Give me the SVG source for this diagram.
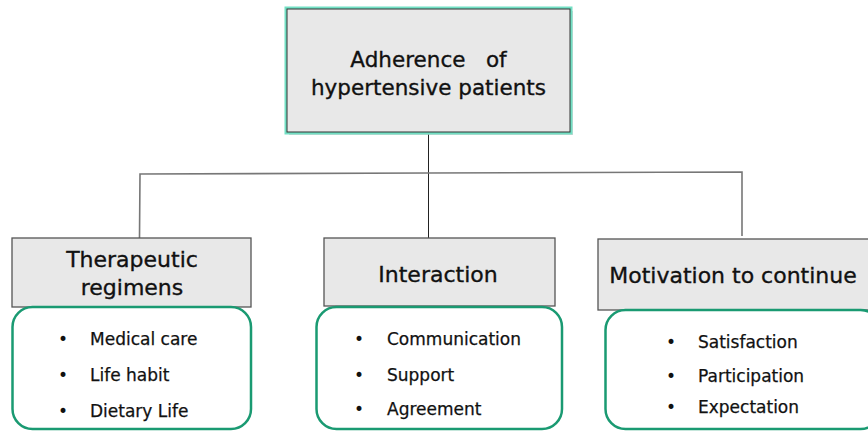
<svg xmlns="http://www.w3.org/2000/svg" width="868" height="431" viewBox="0 0 868 431">
<style>
.hd{font-family:"DejaVu Sans","Liberation Sans",sans-serif;font-size:22px;fill:#111;stroke:#111;stroke-width:0.35;text-anchor:middle}
.it{font-family:"DejaVu Sans","Liberation Sans",sans-serif;font-size:17px;fill:#111;stroke:#111;stroke-width:0.25}
.bl{font-family:"DejaVu Sans","Liberation Sans",sans-serif;font-size:17px;fill:#111;text-anchor:middle}
.gbox{fill:#e8e8e8;stroke:#555;stroke-width:1.3}
.rbox{fill:#fff;stroke:#1a9a72;stroke-width:2.5}
.ln{fill:none;stroke:#777;stroke-width:1.6}
</style>
<rect width="868" height="431" fill="#fff"/>
<g id="connectors">
<line x1="428.5" y1="132" x2="428.5" y2="238" stroke="#222" stroke-width="1"/>
<polyline class="ln" points="139.5,238 140,174 428,173 742,172 742,236"/>
</g>
<g id="root">
<rect x="289" y="11" width="284" height="124" fill="#bbb" opacity="0.6"/>
<rect x="287" y="9" width="283" height="123" fill="none" stroke="#72e0c4" stroke-width="5"/>
<rect x="287" y="9" width="283" height="123" fill="#e8e8e8" stroke="#333" stroke-width="1"/>
<text class="hd" x="428.5" y="67" style="font-size:21.5px;white-space:pre" xml:space="preserve">Adherence   of</text>
<text class="hd" x="428.5" y="95" style="font-size:21.5px">hypertensive patients</text>
</g>
<g id="therapeutic">
<rect class="gbox" x="12" y="238" width="239" height="69"/>
<text class="hd" x="132" y="267">Therapeutic</text>
<text class="hd" x="132" y="295">regimens</text>
</g>
<g id="therapeutic-items">
<rect class="rbox" x="12.5" y="307" width="238.5" height="122" rx="20"/>
<text class="bl" x="63" y="345">•</text><text class="it" x="90" y="345">Medical care</text>
<text class="bl" x="63" y="381">•</text><text class="it" x="90" y="381">Life habit</text>
<text class="bl" x="63" y="417">•</text><text class="it" x="90" y="417">Dietary Life</text>
</g>
<g id="interaction">
<rect class="gbox" x="324" y="238" width="231" height="68"/>
<text class="hd" x="438" y="282">Interaction</text>
</g>
<g id="interaction-items">
<rect class="rbox" x="316.5" y="307" width="245.5" height="122" rx="20"/>
<text class="bl" x="359" y="345">•</text><text class="it" x="387" y="345">Communication</text>
<text class="bl" x="359" y="381">•</text><text class="it" x="387" y="381">Support</text>
<text class="bl" x="359" y="415">•</text><text class="it" x="387" y="415">Agreement</text>
</g>
<g id="motivation">
<rect class="gbox" x="598" y="239" width="285" height="71"/>
<text class="hd" x="733" y="283">Motivation to continue</text>
</g>
<g id="motivation-items">
<rect class="rbox" x="605.5" y="310" width="275" height="119" rx="20"/>
<text class="bl" x="671" y="348">•</text><text class="it" x="698" y="348">Satisfaction</text>
<text class="bl" x="671" y="382">•</text><text class="it" x="698" y="382">Participation</text>
<text class="bl" x="671" y="413">•</text><text class="it" x="698" y="413">Expectation</text>
</g>
</svg>
